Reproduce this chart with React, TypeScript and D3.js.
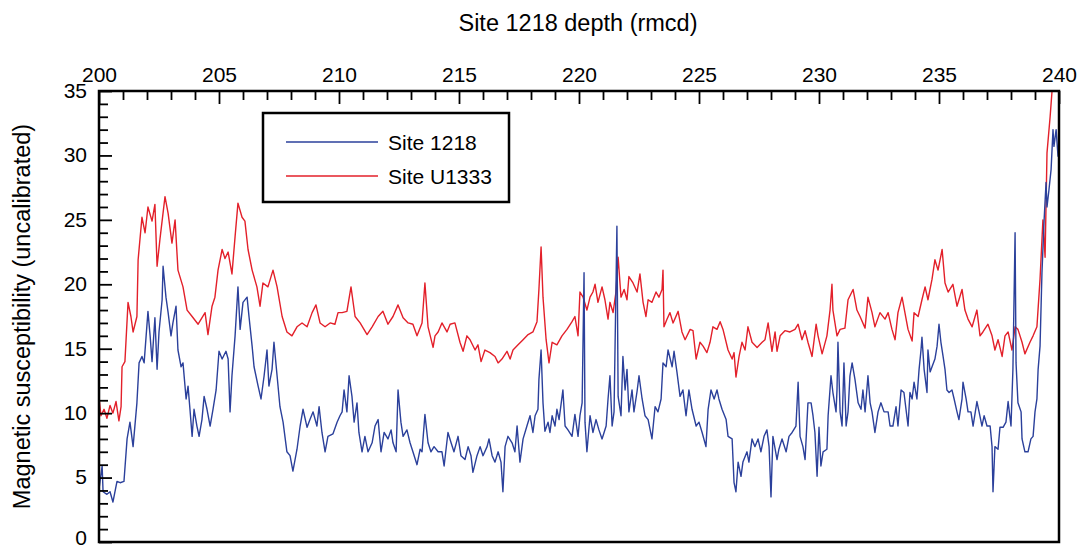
import React, { useEffect, useRef } from "react";
import * as d3 from "d3";

// depth (rmcd), magnetic susceptibility
const site1218Depth = [
  200.0, 200.13, 200.17, 200.33, 200.46, 200.58, 200.75, 200.88, 201.04, 201.17, 201.29, 201.42, 201.58, 201.67, 201.79, 201.88,
  202.04, 202.13, 202.21, 202.33, 202.42, 202.5, 202.63, 202.67, 202.79, 202.88, 203.0, 203.08, 203.21, 203.29, 203.42, 203.5,
  203.63, 203.71, 203.79, 203.88, 203.96, 204.08, 204.17, 204.29, 204.38, 204.5, 204.63, 204.75, 204.88, 205.0, 205.13, 205.29,
  205.38, 205.46, 205.54, 205.67, 205.79, 205.88, 206.0, 206.17, 206.25, 206.38, 206.46, 206.63, 206.75, 206.88, 207.0, 207.08,
  207.21, 207.29, 207.42, 207.54, 207.67, 207.83, 207.96, 208.08, 208.25, 208.38, 208.5, 208.67, 208.79, 208.92, 209.08, 209.17,
  209.29, 209.42, 209.54, 209.75, 209.92, 210.04, 210.13, 210.21, 210.33, 210.42, 210.54, 210.63, 210.75, 210.83, 210.96, 211.08,
  211.21, 211.38, 211.5, 211.63, 211.75, 211.88, 212.04, 212.17, 212.25, 212.38, 212.46, 212.58, 212.67, 212.83, 212.96, 213.08,
  213.25, 213.38, 213.46, 213.58, 213.71, 213.83, 213.96, 214.13, 214.29, 214.38, 214.54, 214.67, 214.79, 214.96, 215.08, 215.25,
  215.38, 215.5, 215.58, 215.75, 215.88, 216.0, 216.17, 216.25, 216.38, 216.5, 216.63, 216.75, 216.83, 216.92, 217.04, 217.21,
  217.33, 217.42, 217.54, 217.67, 217.83, 217.96, 218.08, 218.17, 218.29, 218.33, 218.42, 218.5, 218.58, 218.71, 218.79, 218.88,
  219.0, 219.08, 219.17, 219.33, 219.42, 219.54, 219.71, 219.83, 219.96, 220.04, 220.13, 220.21, 220.25, 220.33, 220.46, 220.58,
  220.71, 220.83, 220.96, 221.13, 221.21, 221.29, 221.38, 221.46, 221.58, 221.63, 221.75, 221.83, 221.92, 222.0, 222.08, 222.21,
  222.29, 222.42, 222.5, 222.63, 222.75, 222.88, 223.04, 223.17, 223.29, 223.42, 223.5, 223.63, 223.71, 223.88, 223.96, 224.08,
  224.21, 224.33, 224.46, 224.58, 224.71, 224.88, 225.0, 225.13, 225.29, 225.38, 225.5, 225.63, 225.75, 225.83, 225.96, 226.13,
  226.21, 226.38, 226.46, 226.54, 226.63, 226.75, 226.83, 227.0, 227.08, 227.21, 227.33, 227.46, 227.58, 227.71, 227.83, 227.92,
  228.0, 228.08, 228.25, 228.33, 228.46, 228.63, 228.75, 228.88, 229.04, 229.13, 229.21, 229.33, 229.42, 229.54, 229.67, 229.75,
  229.83, 229.92, 230.0, 230.08, 230.17, 230.33, 230.38, 230.5, 230.58, 230.71, 230.75, 230.79, 230.88, 230.96, 231.04, 231.13,
  231.21, 231.29, 231.38, 231.5, 231.63, 231.75, 231.83, 231.92, 232.04, 232.13, 232.21, 232.33, 232.46, 232.58, 232.71, 232.88,
  232.96, 233.08, 233.21, 233.29, 233.42, 233.54, 233.71, 233.79, 233.88, 233.96, 234.08, 234.17, 234.25, 234.29, 234.38, 234.5,
  234.54, 234.63, 234.71, 234.83, 234.92, 235.0, 235.08, 235.17, 235.25, 235.33, 235.42, 235.54, 235.63, 235.75, 235.83, 235.96,
  236.0, 236.13, 236.21, 236.33, 236.42, 236.58, 236.67, 236.79, 236.88, 237.0, 237.13, 237.21, 237.25, 237.33, 237.46, 237.54,
  237.67, 237.79, 237.88, 238.0, 238.08, 238.17, 238.21, 238.29, 238.42, 238.46, 238.58, 238.71, 238.83, 238.92, 239.0, 239.08,
  239.13, 239.21, 239.29, 239.38, 239.46, 239.5, 239.58, 239.67, 239.75, 239.79, 239.88, 239.96,
];
const site1218Value = [
  4.1, 5.9, 3.9, 3.7, 3.9, 3.1, 4.7, 4.6, 4.7, 8.0, 9.3, 7.4, 10.8, 13.9, 14.4, 13.9,
  17.9, 16.0, 14.0, 17.4, 13.4, 16.3, 18.8, 21.4, 19.0, 17.8, 16.0, 17.0, 18.3, 14.9, 13.6, 13.9,
  11.1, 12.1, 10.3, 8.2, 10.3, 9.0, 8.2, 9.5, 11.3, 10.3, 9.0, 10.3, 11.8, 14.8, 14.2, 14.8,
  14.2, 10.1, 12.9, 16.0, 19.8, 16.5, 18.6, 19.0, 17.5, 15.2, 13.6, 12.1, 11.1, 12.9, 14.9, 12.1,
  13.4, 15.5, 12.9, 10.5, 9.3, 7.0, 6.7, 5.5, 7.2, 9.0, 10.3, 8.9, 9.5, 10.1, 9.0, 10.5,
  8.5, 7.0, 8.2, 8.4, 9.3, 9.8, 10.1, 11.8, 10.1, 12.9, 11.3, 9.3, 10.8, 8.5, 7.0, 8.2,
  7.0, 7.7, 9.0, 9.5, 7.0, 8.5, 8.0, 8.7, 7.7, 7.0, 11.8, 9.3, 8.2, 8.7, 7.7, 7.0,
  6.0, 7.2, 7.0, 9.9, 7.7, 7.0, 7.4, 7.0, 7.0, 5.9, 8.5, 7.7, 7.0, 8.2, 6.7, 6.4,
  7.4, 6.7, 5.4, 6.7, 7.4, 6.7, 7.4, 8.0, 6.7, 6.2, 7.0, 6.2, 3.9, 7.4, 8.2, 7.7,
  7.0, 9.0, 6.2, 8.0, 9.0, 9.8, 8.5, 9.8, 10.3, 12.6, 14.9, 10.8, 8.6, 9.3, 8.5, 9.8,
  9.0, 10.3, 9.5, 11.8, 9.0, 8.7, 8.2, 9.9, 8.2, 9.8, 10.8, 20.9, 9.3, 7.0, 9.8, 8.5,
  9.5, 8.7, 8.0, 9.0, 11.1, 12.9, 9.0, 10.1, 24.5, 11.3, 9.8, 14.4, 11.8, 13.4, 10.1, 11.8,
  10.1, 11.7, 12.9, 11.1, 9.8, 9.5, 8.0, 10.5, 10.1, 11.1, 13.9, 13.6, 14.9, 13.6, 14.8, 13.2,
  11.3, 11.8, 9.8, 11.8, 10.3, 9.0, 9.3, 8.5, 7.4, 10.3, 11.8, 11.1, 11.8, 11.1, 10.3, 9.5,
  8.2, 8.0, 4.6, 3.9, 6.2, 5.1, 6.2, 7.0, 6.2, 8.0, 7.4, 8.0, 7.0, 8.2, 8.7, 7.4,
  3.5, 8.2, 6.4, 7.2, 8.0, 7.0, 8.2, 8.5, 9.0, 12.4, 8.2, 7.4, 6.4, 10.8, 10.8, 9.8,
  8.5, 5.1, 8.9, 5.9, 7.0, 7.2, 9.8, 12.9, 11.6, 10.1, 11.8, 15.5, 10.1, 9.0, 13.9, 9.0,
  10.1, 12.9, 13.9, 12.6, 10.8, 10.3, 11.8, 10.1, 12.9, 10.8, 10.1, 8.5, 10.1, 10.8, 10.1, 10.1,
  9.0, 9.0, 10.5, 9.0, 11.8, 11.6, 9.0, 11.6, 11.1, 12.4, 11.1, 13.4, 14.9, 15.9, 13.4, 11.6,
  14.9, 13.2, 13.6, 14.2, 15.2, 16.9, 15.5, 14.4, 13.4, 11.8, 11.6, 11.8, 11.1, 10.1, 9.5, 11.1,
  12.4, 11.1, 10.1, 10.1, 9.0, 10.9, 10.1, 9.0, 9.8, 9.0, 9.0, 7.4, 3.9, 7.4, 7.2, 8.9,
  8.9, 9.3, 10.9, 9.0, 13.4, 24.0, 13.9, 10.8, 10.1, 8.0, 7.0, 7.0, 8.0, 8.2, 10.1, 11.1,
  13.4, 15.2, 20.9, 25.0, 27.9, 26.0, 27.3, 28.9, 32.0, 30.7, 32.0, 29.9,
];

const siteU1333Depth = [
  200.0, 200.08, 200.21, 200.33, 200.46, 200.58, 200.71, 200.83, 200.92, 200.96, 201.08, 201.21, 201.33, 201.42, 201.58, 201.63,
  201.79, 201.92, 202.04, 202.21, 202.33, 202.42, 202.54, 202.75, 202.88, 203.04, 203.17, 203.29, 203.5, 203.67, 203.88, 204.13,
  204.42, 204.54, 204.71, 204.83, 204.96, 205.13, 205.25, 205.38, 205.54, 205.67, 205.79, 205.96, 206.08, 206.21, 206.38, 206.58,
  206.71, 206.83, 207.04, 207.25, 207.42, 207.63, 207.83, 208.04, 208.25, 208.46, 208.67, 208.88, 209.04, 209.21, 209.42, 209.63,
  209.83, 209.96, 210.13, 210.33, 210.5, 210.67, 210.88, 211.17, 211.38, 211.63, 211.83, 212.04, 212.25, 212.46, 212.67, 212.88,
  213.08, 213.25, 213.46, 213.58, 213.71, 213.92, 214.0, 214.13, 214.29, 214.5, 214.63, 214.83, 215.04, 215.17, 215.33, 215.46,
  215.67, 215.79, 215.92, 216.08, 216.29, 216.5, 216.63, 216.79, 217.0, 217.13, 217.25, 217.46, 217.67, 217.88, 218.08, 218.25,
  218.33, 218.42, 218.5, 218.63, 218.75, 218.88, 219.08, 219.29, 219.5, 219.71, 219.83, 219.96, 220.04, 220.17, 220.33, 220.46,
  220.58, 220.67, 220.79, 220.96, 221.08, 221.21, 221.29, 221.42, 221.54, 221.63, 221.75, 221.88, 222.0, 222.08, 222.25, 222.42,
  222.54, 222.67, 222.79, 222.88, 223.04, 223.21, 223.33, 223.46, 223.5, 223.54, 223.67, 223.79, 223.92, 224.13, 224.29, 224.42,
  224.63, 224.75, 224.88, 225.04, 225.17, 225.33, 225.46, 225.58, 225.75, 225.88, 226.0, 226.21, 226.38, 226.46, 226.54, 226.67,
  226.79, 226.92, 227.04, 227.21, 227.42, 227.63, 227.75, 227.88, 228.04, 228.17, 228.25, 228.38, 228.58, 228.79, 229.0, 229.13,
  229.29, 229.42, 229.54, 229.71, 229.88, 229.96, 230.13, 230.33, 230.46, 230.54, 230.58, 230.75, 230.88, 231.08, 231.21, 231.42,
  231.58, 231.71, 231.92, 232.04, 232.21, 232.33, 232.54, 232.75, 232.88, 233.04, 233.17, 233.29, 233.46, 233.58, 233.71, 233.88,
  233.96, 234.13, 234.29, 234.42, 234.54, 234.71, 234.83, 234.96, 235.13, 235.25, 235.38, 235.58, 235.75, 235.96, 236.08, 236.21,
  236.38, 236.58, 236.71, 236.83, 237.04, 237.21, 237.33, 237.46, 237.63, 237.75, 237.88, 238.04, 238.17, 238.29, 238.46, 238.58,
  238.79, 238.92, 239.08, 239.21, 239.33, 239.42, 239.5, 239.63, 239.75,
];
const siteU1333Value = [
  11.3, 9.8, 10.3, 9.6, 10.6, 10.0, 10.9, 9.4, 10.5, 13.6, 14.0, 18.6, 17.5, 16.3, 17.5, 21.9,
  25.2, 24.0, 26.0, 24.9, 26.2, 21.4, 23.5, 26.8, 25.5, 23.2, 25.0, 21.1, 19.8, 18.0, 17.5, 16.9,
  17.8, 16.1, 18.3, 19.0, 21.1, 22.7, 22.0, 22.5, 20.8, 23.7, 26.3, 25.2, 24.9, 22.7, 21.1, 19.8,
  18.3, 20.1, 19.8, 21.1, 19.8, 17.5, 16.3, 16.0, 16.7, 17.0, 16.7, 17.8, 18.4, 17.0, 16.7, 17.0,
  16.9, 17.8, 17.8, 17.9, 19.8, 17.5, 17.0, 16.1, 16.7, 17.5, 17.9, 16.9, 17.5, 18.4, 17.4, 17.0,
  16.9, 16.0, 17.0, 20.1, 16.7, 15.1, 16.0, 16.3, 17.0, 16.3, 16.9, 17.0, 15.5, 14.8, 16.0, 15.7,
  14.9, 15.3, 14.0, 14.9, 14.7, 14.4, 13.9, 14.2, 14.8, 14.2, 14.9, 15.3, 15.7, 16.1, 16.3, 17.1,
  19.6, 22.9, 19.0, 15.7, 13.9, 15.5, 15.3, 16.0, 16.5, 17.1, 17.5, 16.0, 19.4, 19.0, 18.0, 19.0,
  19.4, 20.0, 18.6, 19.8, 18.8, 17.3, 18.6, 17.8, 19.4, 22.1, 19.0, 19.6, 18.8, 20.6, 20.1, 19.4,
  20.8, 18.6, 17.5, 18.8, 18.6, 19.4, 19.0, 19.6, 21.1, 16.7, 17.3, 17.8, 17.0, 17.9, 16.3, 15.7,
  16.5, 16.4, 14.2, 15.5, 15.2, 14.7, 15.5, 16.7, 16.5, 17.1, 16.5, 14.9, 14.2, 14.7, 12.8, 14.4,
  15.5, 14.9, 16.7, 15.5, 15.1, 15.5, 15.7, 17.0, 14.8, 16.3, 14.8, 16.0, 16.4, 16.3, 16.5, 16.9,
  15.7, 16.4, 15.5, 14.4, 16.9, 16.0, 14.6, 16.0, 18.0, 20.0, 18.0, 16.0, 16.5, 16.6, 18.8, 19.6,
  18.0, 17.5, 16.6, 19.0, 17.8, 16.7, 17.8, 17.3, 17.8, 16.5, 15.7, 17.8, 19.0, 17.8, 16.5, 15.6,
  17.8, 17.5, 18.8, 19.8, 18.8, 20.4, 21.9, 21.1, 22.7, 20.1, 19.4, 20.0, 18.3, 19.6, 18.0, 17.3,
  16.7, 18.0, 16.0, 16.3, 16.9, 16.0, 14.9, 15.7, 14.4, 16.0, 16.3, 14.9, 16.7, 16.5, 15.5, 14.6,
  15.5, 16.0, 16.7, 20.4, 25.0, 22.1, 30.2, 33.0, 36.0,
];

const legendLabels = ["Site 1218", "Site U1333"];
const seriesColors = ["#2b409b", "#e3202a"];

const W = 1078;
const H = 550;
const margin = { top: 91, right: 19, bottom: 8, left: 99 };
const FONT = "'Liberation Sans', Arial, Helvetica, sans-serif";

export default function App() {
  const svgRef = useRef<SVGSVGElement>(null);

  useEffect(() => {
    const svg = d3.select(svgRef.current);
    svg.selectAll("*").remove();

    const x = d3.scaleLinear().domain([200, 240]).range([margin.left, W - margin.right]);
    const y = d3.scaleLinear().domain([0, 35]).range([H - margin.bottom, margin.top]);

    svg
      .append("defs")
      .append("clipPath")
      .attr("id", "plot-clip")
      .append("rect")
      .attr("x", x(200))
      .attr("y", y(35))
      .attr("width", x(240) - x(200))
      .attr("height", y(0) - y(35));

    const series = [
      { depth: site1218Depth, value: site1218Value },
      { depth: siteU1333Depth, value: siteU1333Value },
    ];

    const g = svg.append("g").attr("clip-path", "url(#plot-clip)");
    // red first, blue on top
    [1, 0].forEach((i) => {
      const s = series[i];
      const line = d3
        .line<number>()
        .x((d) => x(d))
        .y((_, k) => y(s.value[k]));
      g.append("path")
        .attr("d", line(s.depth))
        .attr("fill", "none")
        .attr("stroke", seriesColors[i])
        .attr("stroke-width", 1.4)
        .attr("stroke-linejoin", "round");
    });

    // frame
    svg
      .append("rect")
      .attr("x", x(200))
      .attr("y", y(35))
      .attr("width", x(240) - x(200))
      .attr("height", y(0) - y(35))
      .attr("fill", "none")
      .attr("stroke", "#000")
      .attr("stroke-width", 2.5);

    // top axis, ticks pointing in
    const xAxis = d3
      .axisTop(x)
      .tickValues(d3.range(200, 241, 1))
      .tickSize(0)
      .tickFormat(() => "");
    const gx = svg.append("g").attr("transform", `translate(0,${y(35)})`).call(xAxis);
    gx.select(".domain").remove();
    gx.selectAll(".tick line")
      .attr("y2", (d: any) => (d % 5 === 0 ? 13 : 9))
      .attr("stroke", "#000")
      .attr("stroke-width", 1.8);
    gx.selectAll(".tick")
      .filter((d: any) => d % 5 === 0)
      .append("text")
      .attr("y", -9)
      .attr("fill", "#000")
      .attr("text-anchor", "middle")
      .style("font-family", FONT)
      .style("font-size", "21px")
      .text((d: any) => d);

    // left axis, ticks pointing in
    const yAxis = d3
      .axisLeft(y)
      .tickValues(d3.range(0, 36, 1))
      .tickSize(0)
      .tickFormat(() => "");
    const gy = svg.append("g").attr("transform", `translate(${x(200)},0)`).call(yAxis);
    gy.select(".domain").remove();
    gy.selectAll(".tick line")
      .attr("x2", (d: any) => (d % 5 === 0 ? 13 : 9))
      .attr("stroke", "#000")
      .attr("stroke-width", 1.8);
    gy.selectAll(".tick")
      .filter((d: any) => d % 5 === 0)
      .append("text")
      .attr("x", -12)
      .attr("dy", (d: any) => (d === 0 ? "0.12em" : "0.3em"))
      .attr("fill", "#000")
      .attr("text-anchor", "end")
      .style("font-family", FONT)
      .style("font-size", "21px")
      .text((d: any) => d);

    // axis titles
    svg
      .append("text")
      .attr("x", (x(200) + x(240)) / 2 - 1)
      .attr("y", 31)
      .attr("text-anchor", "middle")
      .style("font-family", FONT)
      .style("font-size", "23.5px")
      .text("Site 1218 depth (rmcd)");

    svg
      .append("text")
      .attr("transform", `translate(30,${(y(0) + y(35)) / 2}) rotate(-90)`)
      .attr("text-anchor", "middle")
      .style("font-family", FONT)
      .style("font-size", "23.5px")
      .text("Magnetic susceptibility (uncalibrated)");

    // legend
    const lg = svg.append("g").attr("transform", "translate(263,113)");
    lg.append("rect")
      .attr("width", 246)
      .attr("height", 89)
      .attr("fill", "#fff")
      .attr("stroke", "#000")
      .attr("stroke-width", 2.5);
    legendLabels.forEach((label, i) => {
      const ly = 29 + i * 34;
      lg.append("line")
        .attr("x1", 23)
        .attr("x2", 115)
        .attr("y1", ly)
        .attr("y2", ly)
        .attr("stroke", seriesColors[i])
        .attr("stroke-width", 1.4);
      lg.append("text")
        .attr("x", 125)
        .attr("y", ly)
        .attr("dy", "0.36em")
        .style("font-family", FONT)
        .style("font-size", "21px")
        .text(label);
    });
  }, []);

  return (
    <div style={{ position: "absolute", left: 0, top: 0, width: W, height: H, background: "#fff" }}>
      <svg ref={svgRef} width={W} height={H}></svg>
    </div>
  );
}
